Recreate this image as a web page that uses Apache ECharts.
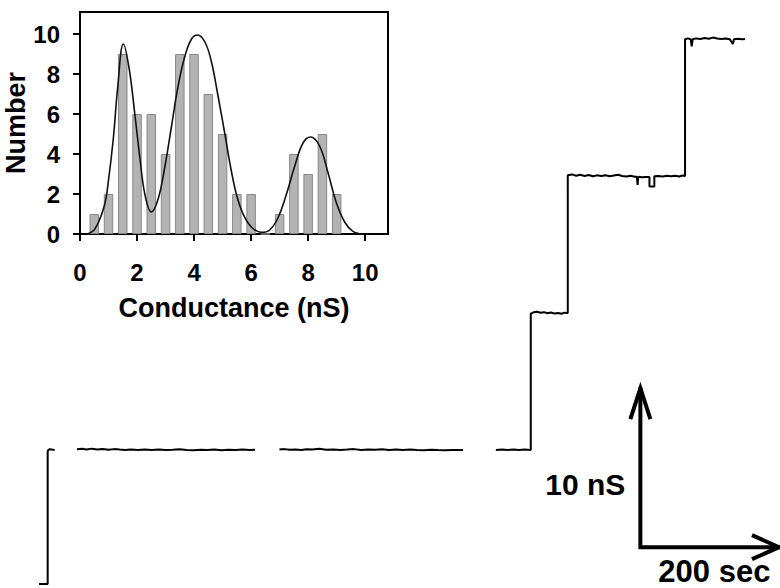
<!DOCTYPE html>
<html>
<head>
<meta charset="utf-8">
<script src="https://cdn.jsdelivr.net/npm/echarts@6/dist/echarts.min.js"></script>
<style>
  html, body { margin: 0; padding: 0; background: #fff; }
  #chart { width: 780px; height: 588px; }
</style>
</head>
<body>
<div id="chart"></div>
<script>
// ---- Histogram of step conductances (inset) ----
const histBins   = [0.5, 1.0, 1.5, 2.0, 2.5, 3.0, 3.5, 4.0, 4.5, 5.0, 5.5, 6.0, 6.5, 7.0, 7.5, 8.0, 8.5, 9.0];
const histCounts = [1,   2,   9,   6,   6,   4,   9,   9,   7,   5,   2,   2,   0,   1,   4,   3,   5,   2];

// Multi-peak fit drawn over the histogram
const fitX = [0.25, 0.53, 0.85, 1.0, 1.17, 1.32, 1.52, 1.72, 1.93, 2.1, 2.28, 2.5, 2.74, 2.98, 3.21, 3.44, 3.68, 3.91, 4.12, 4.38,
              4.61, 4.84, 5.08, 5.3, 5.5, 5.72, 6.01, 6.36, 6.65, 6.94, 7.23, 7.53, 7.82, 8.08, 8.4, 8.69, 8.98, 9.28, 9.57, 9.9];
const fitY = [0, 0.27, 1.4, 2.7, 4.8, 7.3, 9.5, 8.3, 5.9, 3.8, 1.95, 1.1, 1.75, 3.4, 5.4, 7.4, 8.9, 9.75, 9.95, 9.6,
              8.6, 6.9, 5.0, 3.2, 1.9, 1.0, 0.35, 0.08, 0.2, 0.8, 1.95, 3.4, 4.55, 4.85, 4.4, 3.1, 1.6, 0.6, 0.13, 0];

const histTicks = [0, 2, 4, 6, 8, 10];

// ---- Conductance record: [time (s), conductance (nS)] ----
const traceStart = [[-14, 0], [1, 0], [1, 8.3], [2, 8.38], [4, 8.42], [7, 8.4], [11, 8.38]];
const traceBaseline1 = [
  [43, 8.42], [50, 8.45], [57, 8.40], [64, 8.46], [72, 8.41], [80, 8.44], [88, 8.39], [96, 8.43], [104, 8.40], [112, 8.38],
  [120, 8.41], [130, 8.37], [140, 8.40], [150, 8.38], [160, 8.41], [170, 8.37], [180, 8.39], [190, 8.42], [200, 8.38],
  [210, 8.36], [220, 8.39], [230, 8.37], [240, 8.40], [250, 8.36], [260, 8.39], [270, 8.37], [280, 8.40], [290, 8.37], [298, 8.39]
];
const traceBaseline2 = [
  [333, 8.40], [340, 8.43], [348, 8.39], [356, 8.41], [364, 8.38], [372, 8.42], [380, 8.40], [390, 8.45], [400, 8.39],
  [410, 8.41], [420, 8.38], [430, 8.40], [440, 8.43], [450, 8.38], [460, 8.41], [470, 8.39], [480, 8.42], [490, 8.38],
  [500, 8.40], [510, 8.37], [520, 8.41], [530, 8.38], [540, 8.36], [550, 8.39], [560, 8.37], [570, 8.36], [580, 8.38],
  [590, 8.37], [596, 8.38]
];
const traceSteps = [
  [643, 8.38], [652, 8.40], [660, 8.37], [668, 8.41], [676, 8.38], [684, 8.40], [693, 8.38],
  [693, 16.9], [697, 16.98], [702, 17.02], [707, 16.95], [712, 16.99], [717, 16.92], [722, 16.97], [727, 16.90],
  [732, 16.94], [737, 16.89], [741, 16.96], [746, 16.93],
  [746, 25.55], [752, 25.6], [758, 25.52], [764, 25.58], [770, 25.5], [776, 25.56], [782, 25.49], [788, 25.54],
  [794, 25.5], [800, 25.55], [806, 25.48], [812, 25.53], [818, 25.58], [824, 25.5], [830, 25.47], [836, 25.52],
  [842, 25.45], [845, 25.45], [846, 24.95], [847, 25.45], [852, 25.42], [858, 25.44], [863, 25.44], [863, 24.85],
  [870, 24.85], [870, 25.48], [876, 25.50], [882, 25.47], [888, 25.52], [894, 25.49], [900, 25.51], [906, 25.47],
  [910, 25.53], [914, 25.5],
  [914, 34.05], [918, 34.1], [922, 34.05], [923.5, 33.6], [925, 34.05], [930, 34.1], [936, 34.06], [942, 34.12],
  [948, 34.08], [954, 34.15], [960, 34.1], [966, 34.06], [972, 34.1], [978, 34.05], [982.5, 33.75], [984, 34.05],
  [990, 34.08], [996, 34.04], [1000, 34.06]
];
const traceSegments = [traceStart, traceBaseline1, traceBaseline2, traceSteps];

// Scale bar: corner position (s, nS) and lengths
const scaleCorner = [850, 2.3];
const scaleTime = 200;
const scaleCond = 10;
const scaleTimeLabel = '200 sec';
const scaleCondLabel = '10 nS';

const FONT = '"Liberation Sans", Arial, Helvetica, sans-serif';

const chart = echarts.init(document.getElementById('chart'), null, { renderer: 'svg' });

const traceSeries = traceSegments.map(seg => ({
  type: 'line',
  xAxisIndex: 0,
  yAxisIndex: 0,
  data: seg,
  symbol: 'none',
  silent: true,
  animation: false,
  lineStyle: { color: '#000', width: 2 }
}));

const scaleBarSeries = {
  type: 'custom',
  xAxisIndex: 0,
  yAxisIndex: 0,
  silent: true,
  animation: false,
  data: [scaleCorner],
  renderItem(params, api) {
    const o = api.coord([scaleCorner[0], scaleCorner[1]]);
    const top = api.coord([scaleCorner[0], scaleCorner[1] + scaleCond]);
    const right = api.coord([scaleCorner[0] + scaleTime, scaleCorner[1]]);
    const stroke = { stroke: '#000', lineWidth: 4, fill: null, lineJoin: 'miter', lineCap: 'butt' };
    return {
      type: 'group',
      children: [
        { type: 'polyline', shape: { points: [top, o, right] }, style: stroke },
        { type: 'polyline', shape: { points: [[top[0] - 10, top[1] + 32], [top[0], top[1] + 1], [top[0] + 10, top[1] + 32]] }, style: stroke },
        { type: 'polyline', shape: { points: [[right[0] - 28, right[1] - 12], [right[0] - 1, right[1]], [right[0] - 28, right[1] + 12]] }, style: stroke },
        { type: 'text', style: { text: scaleCondLabel, x: o[0] - 15, y: o[1] - 63, align: 'right', verticalAlign: 'middle',
            font: 'bold 30px ' + FONT, fill: '#000' } },
        { type: 'text', style: { text: scaleTimeLabel, x: o[0] + 74, y: 587, align: 'center', verticalAlign: 'bottom',
            font: 'bold 31px ' + FONT, fill: '#000' } }
      ]
    };
  }
};

const axisText = { color: '#000', fontFamily: FONT, fontWeight: 'bold', fontSize: 24 };

const option = {
  backgroundColor: '#fff',
  animation: false,
  grid: [
    { left: 40, right: 0, top: 0, bottom: 0 },
    { left: 80, top: 12, width: 308, height: 222, show: true, borderColor: '#000', borderWidth: 2, backgroundColor: 'transparent' }
  ],
  xAxis: [
    { gridIndex: 0, type: 'value', min: -10, max: 1050, show: false },
    {
      gridIndex: 1, type: 'value', min: 0, max: 10.8,
      name: 'Conductance (nS)', nameLocation: 'middle', nameGap: 60,
      nameTextStyle: { color: '#000', fontFamily: FONT, fontWeight: 'bold', fontSize: 27 },
      axisLine: { show: true, lineStyle: { color: '#000', width: 2 } },
      axisTick: { show: true, length: 7, inside: false, customValues: histTicks, lineStyle: { color: '#000', width: 2 } },
      axisLabel: Object.assign({ margin: 26, customValues: histTicks }, axisText),
      splitLine: { show: false }
    }
  ],
  yAxis: [
    { gridIndex: 0, type: 'value', min: -0.25, max: 36.5, show: false },
    {
      gridIndex: 1, type: 'value', min: 0, max: 11.1,
      name: 'Number', nameLocation: 'middle', nameGap: 39, nameRotate: 90,
      nameTextStyle: { color: '#000', fontFamily: FONT, fontWeight: 'bold', fontSize: 27 },
      axisLine: { show: true, lineStyle: { color: '#000', width: 2 } },
      axisTick: { show: true, length: 7, inside: false, customValues: histTicks, lineStyle: { color: '#000', width: 2 } },
      axisLabel: Object.assign({ margin: 20, customValues: histTicks }, axisText),
      splitLine: { show: false }
    }
  ],
  series: [
    ...traceSeries,
    scaleBarSeries,
    {
      type: 'bar',
      xAxisIndex: 1,
      yAxisIndex: 1,
      data: histBins.map((b, i) => [b, histCounts[i]]),
      barWidth: 9.5,
      silent: true,
      itemStyle: { color: '#b3b3b3', borderColor: '#888', borderWidth: 1 }
    },
    {
      type: 'line',
      xAxisIndex: 1,
      yAxisIndex: 1,
      data: fitX.map((x, i) => [x, fitY[i]]),
      symbol: 'none',
      smooth: 0.4,
      silent: true,
      lineStyle: { color: '#111', width: 1.6 },
      z: 5
    }
  ]
};

chart.setOption(option);
</script>
</body>
</html>
